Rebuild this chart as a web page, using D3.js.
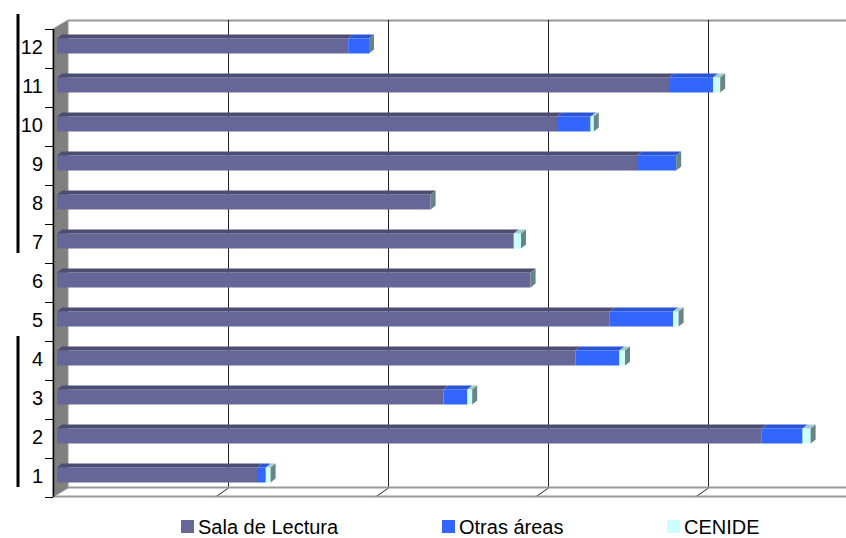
<!DOCTYPE html>
<html><head><meta charset="utf-8">
<script src="https://cdn.jsdelivr.net/npm/d3@7"></script>
<style>html,body{margin:0;padding:0;background:#fff;}svg{display:block;font-family:"Liberation Sans",Arial,sans-serif;}</style>
</head><body>
<svg id="c" width="846" height="538"></svg>
<script>
const categories = ["1","2","3","4","5","6","7","8","9","10","11","12"];
const seriesNames = ["Sala de Lectura","Otras áreas","CENIDE"];
const salaLectura = [125, 440.5, 241.5, 324, 345.5, 296, 285.5, 233.5, 362.5, 312.5, 382.5, 182];
const otrasAreas  = [5.5, 25.5, 15, 27.5, 39.5, 0, 0, 0, 24.5, 21, 27.5, 13];
const cenide      = [3, 5, 3, 3.5, 3.5, 0, 4.5, 0, 0, 2, 4.5, 0];
const xTicks = [0, 100, 200, 300, 400, 500];

const frontCol = ["#666699", "#3366ff", "#ccffff"];
const topCol   = ["#4d4d73", "#2a55d4", "#a3cccc"];
const sideCol  = "#668585";

const svg = d3.select("#c");
const W = 846;
const plotTop = 29, plotBot = 497, axisX = 53, wallDX = 15, wallDY = 9;

const xBack  = d3.scaleLinear().domain([0, 500]).range([axisX + wallDX, axisX + wallDX + 800]);
const xFront = d3.scaleLinear().domain([0, 500]).range([57, 857]);
const y = d3.scaleBand().domain(categories.slice().reverse()).range([plotTop, plotBot]);

// back wall top line
svg.append("line").attr("x1", xBack(0)).attr("x2", W).attr("y1", plotTop - wallDY + 0.5).attr("y2", plotTop - wallDY + 0.5)
  .attr("stroke", "#999").attr("stroke-width", 2);
// side wall
svg.append("path").attr("d", `M${axisX},${plotTop}L${axisX+wallDX},${plotTop-wallDY}L${axisX+wallDX},${plotBot-wallDY}L${axisX},${plotBot}Z`)
  .attr("fill", "#808080").attr("stroke", "#999").attr("stroke-width", 1);
// gridlines on back wall
const grid = svg.append("g");
xTicks.filter(v => v > 0).forEach(v => {
  const gx = Math.round(xBack(v)) + 0.5;
  grid.append("line").attr("x1", gx).attr("x2", gx).attr("y1", plotTop - wallDY).attr("y2", plotBot - wallDY)
    .attr("stroke", "#222").attr("stroke-width", 1);
  grid.append("line").attr("x1", gx).attr("x2", gx - wallDX + 2).attr("y1", plotBot - wallDY).attr("y2", plotBot)
    .attr("stroke", "#222").attr("stroke-width", 1);
});
// floor lines
svg.append("line").attr("x1", xBack(0)).attr("x2", W).attr("y1", plotBot - wallDY - 0.5).attr("y2", plotBot - wallDY - 0.5)
  .attr("stroke", "#999").attr("stroke-width", 2);
svg.append("line").attr("x1", axisX).attr("x2", W).attr("y1", plotBot - 0.5).attr("y2", plotBot - 0.5)
  .attr("stroke", "#999").attr("stroke-width", 2);

// bars
const depthX = 5, depthY = 4, barOff = 9.5, barH = 15;
const series = [salaLectura, otrasAreas, cenide];
const bars = svg.append("g");
categories.forEach((c, i) => {
  const yt = y(c) + barOff;
  let cum = 0;
  series.forEach((s, k) => {
    const v = s[i];
    if (v <= 0) return;
    const x0 = xFront(cum), x1 = xFront(cum + v);
    bars.append("rect").attr("x", x0).attr("y", yt).attr("width", x1 - x0).attr("height", barH).attr("fill", frontCol[k]);
    bars.append("path").attr("d", `M${x0},${yt}L${x0+depthX},${yt-depthY}L${x1+depthX},${yt-depthY}L${x1},${yt}Z`)
      .attr("fill", topCol[k]);
    cum += v;
  });
  const xe = xFront(cum);
  bars.append("path").attr("d", `M${xe},${yt}L${xe+depthX},${yt-depthY}L${xe+depthX},${yt-depthY+barH}L${xe},${yt+barH}Z`)
    .attr("fill", sideCol);
});

// y axis
const yAxis = d3.axisLeft(y).tickSize(0).tickPadding(10);
const ag = svg.append("g").attr("transform", `translate(${axisX},-1)`).call(yAxis);
ag.select(".domain").remove();
ag.selectAll("text").attr("font-size", 20).attr("font-family", "Liberation Sans, Arial, sans-serif").attr("fill", "#000");
svg.append("line").attr("x1", axisX + 0.5).attr("x2", axisX + 0.5).attr("y1", plotTop).attr("y2", plotBot).attr("stroke", "#000").attr("stroke-width", 1.5);
const bounds = categories.map(c => y(c)).concat([plotBot]);
bounds.forEach(b => {
  svg.append("line").attr("x1", axisX - 8).attr("x2", axisX).attr("y1", Math.round(b) + 0.5).attr("y2", Math.round(b) + 0.5)
    .attr("stroke", "#000").attr("stroke-width", 1);
});

// bracket marks on the left
svg.append("line").attr("x1", 18).attr("x2", 18).attr("y1", 14).attr("y2", 253).attr("stroke", "#000").attr("stroke-width", 3);
svg.append("line").attr("x1", 18).attr("x2", 18).attr("y1", 336).attr("y2", 487).attr("stroke", "#000").attr("stroke-width", 3);

// legend
const legX = [181, 442, 667];
const lg = svg.append("g");
seriesNames.forEach((n, k) => {
  lg.append("rect").attr("x", legX[k]).attr("y", 520).attr("width", 13).attr("height", 13).attr("fill", frontCol[k]);
  lg.append("text").attr("x", legX[k] + 17).attr("y", 534).attr("font-size", 20).attr("fill", "#000").text(n);
});
</script>
</body></html>
